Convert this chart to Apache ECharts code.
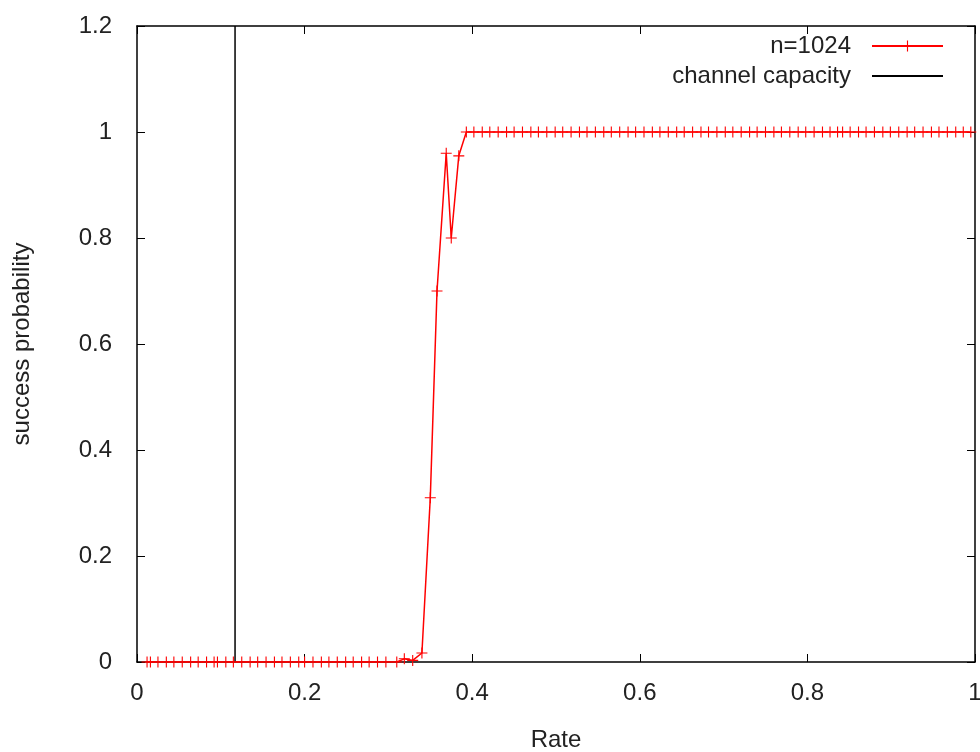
<!DOCTYPE html>
<html>
<head>
<meta charset="utf-8">
<script src="https://cdn.jsdelivr.net/npm/echarts@6/dist/echarts.min.js"></script>
<style>
  html, body { margin: 0; padding: 0; background: #fff; }
  #chart { width: 980px; height: 752px; }
</style>
</head>
<body>
<div id="chart"></div>
<script>
// rates (x) and success probability (y), n=1024
const rates = [
  0.012, 0.016, 0.025, 0.035, 0.044, 0.054, 0.064, 0.073, 0.083, 0.092,
  0.096, 0.106, 0.115, 0.125, 0.135, 0.144, 0.154, 0.164, 0.173, 0.183,
  0.193, 0.200, 0.210, 0.220, 0.229, 0.239, 0.249, 0.258, 0.268, 0.277,
  0.287, 0.297, 0.310, 0.319, 0.329, 0.340, 0.350, 0.358, 0.369, 0.375,
  0.384, 0.393, 0.402, 0.412, 0.421, 0.431, 0.441, 0.450, 0.460, 0.470,
  0.479, 0.489, 0.499, 0.508, 0.518, 0.528, 0.537, 0.547, 0.557, 0.566,
  0.576, 0.586, 0.595, 0.605, 0.615, 0.624, 0.634, 0.644, 0.653, 0.663,
  0.673, 0.682, 0.692, 0.702, 0.711, 0.721, 0.731, 0.740, 0.750, 0.760,
  0.769, 0.779, 0.789, 0.798, 0.808, 0.818, 0.827, 0.836, 0.842, 0.851,
  0.861, 0.870, 0.880, 0.890, 0.899, 0.909, 0.919, 0.928, 0.938, 0.948,
  0.957, 0.967, 0.977, 0.986, 0.995
];
const success = [
  0, 0, 0, 0, 0, 0, 0, 0, 0, 0,
  0, 0, 0, 0, 0, 0, 0, 0, 0, 0,
  0, 0, 0, 0, 0, 0, 0, 0, 0, 0,
  0, 0, 0, 0.006, 0.003, 0.017, 0.31, 0.70, 0.96, 0.80,
  0.955, 1, 1, 1, 1, 1, 1, 1, 1, 1,
  1, 1, 1, 1, 1, 1, 1, 1, 1, 1,
  1, 1, 1, 1, 1, 1, 1, 1, 1, 1,
  1, 1, 1, 1, 1, 1, 1, 1, 1, 1,
  1, 1, 1, 1, 1, 1, 1, 1, 1, 1,
  1, 1, 1, 1, 1, 1, 1, 1, 1, 1,
  1, 1, 1, 1, 1
];
const capacityRate = 0.117;
const capacityY = [0, 1.2];

const FONT = "'Liberation Sans', Arial, sans-serif";
const FS = 24;
const TEXT = "#222";
const PLUS = "path://M0,4.5h10v1h-10z M4.5,0h1v10h-1z";

function frameAxis(extra) {
  return Object.assign({
    type: "value",
    min: 0,
    interval: 0.2,
    axisLine: { show: true, onZero: false, lineStyle: { color: "#000", width: 1.5 } },
    axisTick: { show: true, inside: true, length: 8, lineStyle: { color: "#000", width: 1 } },
    splitLine: { show: false }
  }, extra);
}

function getOption() {
  return {
    animation: false,
    textStyle: { fontFamily: FONT },
    grid: { left: 137, right: 5, top: 26, bottom: 90, outerBoundsMode: "none", containLabel: false },
    legend: {
      orient: "vertical",
      right: 31,
      top: 29,
      align: "right",
      itemWidth: 71,
      itemHeight: 14,
      itemGap: 6,
      textStyle: { fontSize: FS, color: TEXT, fontFamily: FONT, padding: [0, 16, 0, 0] },
      data: ["n=1024", "channel capacity"]
    },
    xAxis: [
      frameAxis({
        max: 1,
        name: "Rate",
        nameLocation: "middle",
        nameGap: 66,
        nameTextStyle: { fontSize: FS, color: TEXT, fontFamily: FONT },
        axisLabel: { fontSize: FS, color: TEXT, margin: 19 }
      }),
      frameAxis({ max: 1, position: "top", axisLabel: { show: false } })
    ],
    yAxis: [
      frameAxis({
        max: 1.2,
        name: "success probability",
        nameLocation: "middle",
        nameGap: 103,
        nameTextStyle: { fontSize: FS, color: TEXT, fontFamily: FONT },
        axisLabel: { fontSize: FS, color: TEXT, margin: 25 }
      }),
      frameAxis({ max: 1.2, position: "right", axisLabel: { show: false } })
    ],
    series: [
      {
        name: "n=1024",
        type: "line",
        data: rates.map((r, i) => [r, success[i]]),
        symbol: PLUS,
        symbolSize: 11,
        showAllSymbol: true,
        color: "#ff0000",
        itemStyle: { color: "#ff0000" },
        lineStyle: { color: "#ff0000", width: 1.5 },
        z: 3
      },
      {
        name: "channel capacity",
        type: "line",
        data: capacityY.map(y => [capacityRate, y]),
        symbol: "none",
        color: "#000",
        itemStyle: { opacity: 0 },
        lineStyle: { color: "#000", width: 1.5 },
        z: 2
      }
    ]
  };
}

const chart = echarts.init(document.getElementById("chart"), null, { renderer: "canvas" });
chart.setOption(getOption());
</script>
</body>
</html>
